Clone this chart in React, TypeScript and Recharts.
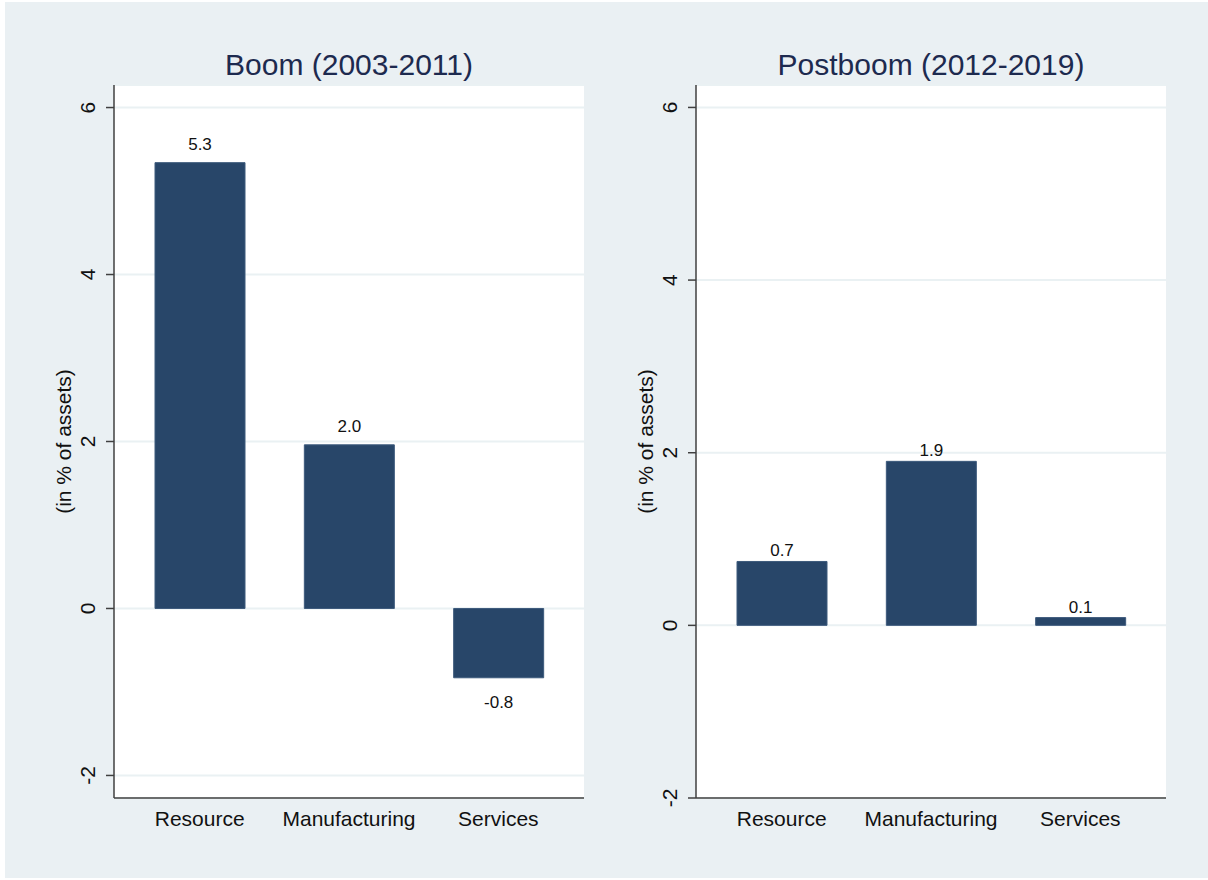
import React from 'react';
import { BarChart, Bar, XAxis, YAxis, CartesianGrid, LabelList } from 'recharts';

const categories = ['Resource', 'Manufacturing', 'Services'];
const boomValues = [5.34, 1.96, -0.83];
const postboomValues = [0.74, 1.9, 0.09];
const yTicks = [-2, 0, 2, 4, 6];
const panelTitles = ['Boom (2003-2011)', 'Postboom (2012-2019)'];
const yAxisTitle = '(in % of assets)';

const BAR_FILL = '#284669';
const AXIS = '#404040';
const FONT = '"Liberation Sans", Arial, Helvetica, sans-serif';

const toRows = (vals: number[]) => categories.map((c, i) => ({ category: c, value: vals[i] }));

const YTick = (props: any) => {
  const { x, y, payload } = props;
  return (
    <g transform={`translate(${x},${y}) rotate(-90)`}>
      <text textAnchor="middle" fontSize={21} fill="#111" fontFamily={FONT}>
        {payload.value}
      </text>
    </g>
  );
};

const XTick = (props: any) => {
  const { x, y, payload } = props;
  return (
    <text x={x} y={Number(y) + 28} textAnchor="middle" fontSize={21} fill="#111" fontFamily={FONT}>
      {payload.value}
    </text>
  );
};

const valueLabel = (gap: number) => (props: any) => {
  const x = Number(props.x);
  const y = Number(props.y);
  const w = Number(props.width);
  const h = Number(props.height);
  const v = Number(props.value);
  const top = Math.min(y, y + h);
  const bottom = Math.max(y, y + h);
  const ty = v >= 0 ? top - gap : bottom + 30;
  return (
    <text x={x + w / 2} y={ty} textAnchor="middle" fontSize={17} fill="#111" fontFamily={FONT}>
      {v.toFixed(1)}
    </text>
  );
};

interface PanelProps {
  values: number[];
  domain: [number, number];
  yWidth: number;
  right: number;
  gap: number;
}

const Panel: React.FC<PanelProps> = ({ values, domain, yWidth, right, gap }) => (
  <BarChart
    width={604}
    height={880}
    data={toRows(values)}
    margin={{ top: 85, right, bottom: 0, left: 0 }}
    barSize={90}
  >
    <CartesianGrid vertical={false} stroke="#eaf1f3" strokeWidth={2} fill="#ffffff" />
    <XAxis
      dataKey="category"
      height={82}
      padding={{ left: 11, right: 11 }}
      tickLine={false}
      tickSize={0}
      tickMargin={0}
      axisLine={{ stroke: AXIS, strokeWidth: 1.5 }}
      tick={XTick}
      interval={0}
    />
    <YAxis
      type="number"
      width={yWidth}
      domain={domain}
      ticks={yTicks}
      allowDataOverflow
      tickSize={8}
      tickMargin={11}
      tickLine={{ stroke: AXIS, strokeWidth: 1.5 }}
      axisLine={{ stroke: AXIS, strokeWidth: 1.5 }}
      tick={YTick}
    />
    <Bar dataKey="value" fill={BAR_FILL} stroke="#3d5a7c" strokeWidth={1} isAnimationActive={false}>
      <LabelList dataKey="value" content={valueLabel(gap)} />
    </Bar>
  </BarChart>
);

export default function App() {
  return (
    <div style={{ position: 'absolute', left: 0, top: 0, width: 1208, height: 880, background: '#ffffff' }}>
      <div style={{ position: 'absolute', left: 5, top: 2, width: 1203, height: 876, background: '#eaf0f3' }} />
      <div style={{ position: 'absolute', left: 0, top: 0 }}>
        <Panel values={boomValues} domain={[-2.27, 6.27]} yWidth={114} right={20} gap={13} />
      </div>
      <div style={{ position: 'absolute', left: 604, top: 0 }}>
        <Panel values={postboomValues} domain={[-2, 6.26]} yWidth={92} right={42} gap={5} />
      </div>
      <svg
        width={1208}
        height={880}
        style={{ position: 'absolute', left: 0, top: 0, pointerEvents: 'none' }}
      >
        <text x={349} y={75} textAnchor="middle" fontSize={30} fill="#1d2a4f" fontFamily={FONT}>
          {panelTitles[0]}
        </text>
        <text x={931} y={75} textAnchor="middle" fontSize={30} fill="#1d2a4f" fontFamily={FONT}>
          {panelTitles[1]}
        </text>
        <g transform="translate(71,441.5) rotate(-90)">
          <text textAnchor="middle" fontSize={21} fill="#111" fontFamily={FONT}>
            {yAxisTitle}
          </text>
        </g>
        <g transform="translate(653,441.5) rotate(-90)">
          <text textAnchor="middle" fontSize={21} fill="#111" fontFamily={FONT}>
            {yAxisTitle}
          </text>
        </g>
      </svg>
    </div>
  );
}
